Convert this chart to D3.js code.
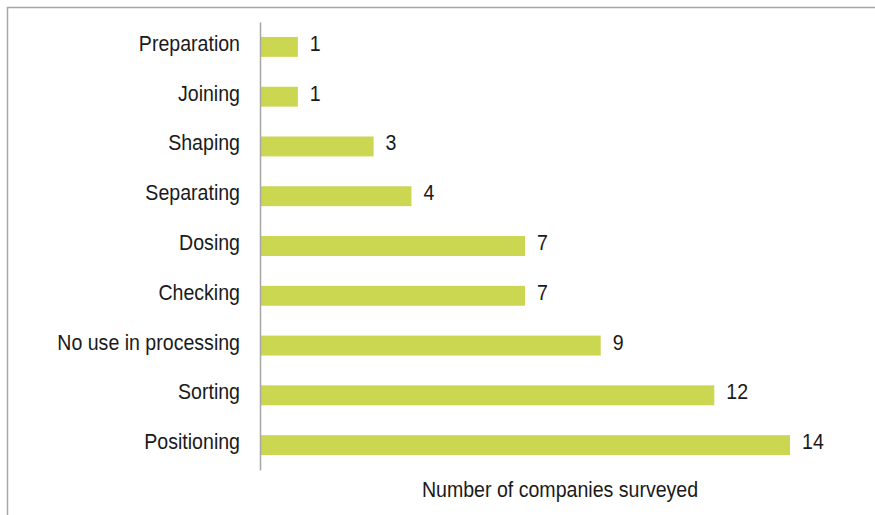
<!DOCTYPE html>
<html>
<head>
<meta charset="utf-8">
<script src="https://cdn.jsdelivr.net/npm/d3@7"></script>
<style>
  html, body { margin: 0; padding: 0; background: #fff; }
  svg { display: block; }
  text { font-family: "Liberation Sans Narrow", "Arial Narrow", "Liberation Sans", Arial, sans-serif; fill: #1a1a1a; }
</style>
</head>
<body>
<script>
// Uses of the technology in processing, by number of companies surveyed
const categories = ["Preparation", "Joining", "Shaping", "Separating", "Dosing", "Checking", "No use in processing", "Sorting", "Positioning"];
const values = [1, 1, 3, 4, 7, 7, 9, 12, 14];
const axisTitle = "Number of companies surveyed";

const W = 875, H = 515;
const plotLeft = 260, plotTop = 22, plotBottom = 470;
const narrow = 0.89; // horizontal squeeze for a condensed look

const svg = d3.select("body").append("svg").attr("width", W).attr("height", H);

// outer frame (extends past the right and bottom edges)
svg.append("rect")
  .attr("x", 7.5).attr("y", 7.5)
  .attr("width", W + 20).attr("height", H + 20)
  .attr("fill", "none").attr("stroke", "#a6a6a6").attr("stroke-width", 1.5);

const x = d3.scaleLinear().domain([0, 14]).range([plotLeft, 790]);
const y = d3.scaleBand().domain(categories).range([plotTop, plotBottom]).paddingInner(0.6).paddingOuter(0.3);

svg.selectAll("rect.bar")
  .data(categories)
  .join("rect")
  .attr("class", "bar")
  .attr("x", x(0))
  .attr("y", d => y(d))
  .attr("width", (d, i) => x(values[i]) - x(0))
  .attr("height", y.bandwidth())
  .attr("fill", "#cbd651");

// category axis
const yAxis = d3.axisLeft(y).tickSize(0).tickPadding(20);
const gy = svg.append("g").attr("transform", `translate(${plotLeft},0)`).call(yAxis);
gy.attr("font-family", null).attr("font-size", null);
gy.select(".domain").attr("stroke", "#a6a6a6").attr("stroke-width", 1.5);
gy.selectAll(".tick text")
  .attr("x", 0)
  .attr("transform", `translate(-20,0) scale(${narrow},1)`)
  .attr("font-size", 22)
  .attr("fill", "#1a1a1a")
  .attr("dy", "0.18em");

// value labels
svg.selectAll("text.val")
  .data(categories)
  .join("text")
  .attr("class", "val")
  .attr("transform", (d, i) => `translate(${x(values[i]) + 12},${y(d) + y.bandwidth() / 2}) scale(${narrow},1)`)
  .attr("dy", "0.18em")
  .attr("font-size", 22)
  .text((d, i) => values[i]);

svg.append("text")
  .attr("transform", `translate(560,497) scale(${narrow},1)`)
  .attr("text-anchor", "middle")
  .attr("font-size", 22)
  .text(axisTitle);
</script>
</body>
</html>
